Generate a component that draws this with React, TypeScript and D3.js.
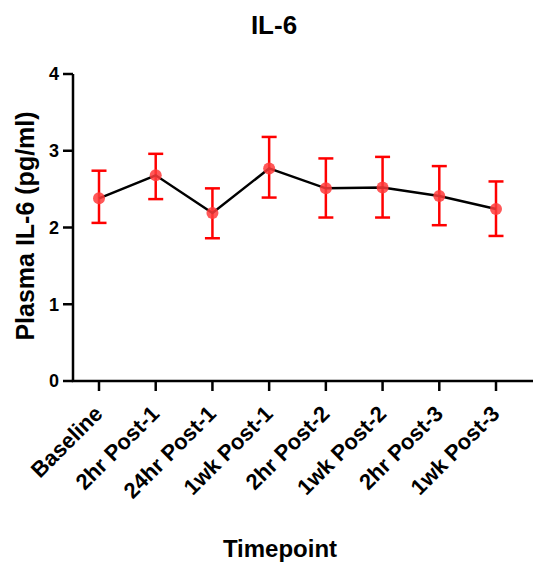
import React from "react";
import * as d3 from "d3";

const categories = [
  "Baseline",
  "2hr Post-1",
  "24hr Post-1",
  "1wk Post-1",
  "2hr Post-2",
  "1wk Post-2",
  "2hr Post-3",
  "1wk Post-3",
];
const means = [2.38, 2.68, 2.19, 2.77, 2.51, 2.52, 2.41, 2.24];
const upper = [2.74, 2.96, 2.51, 3.18, 2.9, 2.92, 2.8, 2.6];
const lower = [2.06, 2.37, 1.86, 2.39, 2.13, 2.13, 2.03, 1.89];
const yTicks = [0, 1, 2, 3, 4];

const W = 533;
const H = 569;
const FONT = "'Liberation Sans', Arial, sans-serif";

export default function App() {
  const x = d3.scalePoint<string>().domain(categories).range([99, 496]);
  const y = d3.scaleLinear().domain([0, 4]).range([381, 74]);
  const axisX0 = 73;
  const axisXEnd = 533;
  const line = d3
    .line<number>()
    .x((_, i) => x(categories[i]) as number)
    .y((d) => y(d));
  const capHalf = 7.5;

  return (
    <svg
      width={W}
      height={H}
      style={{ position: "absolute", left: 0, top: 0, background: "#fff" }}
      fontFamily={FONT}
    >
      <text x={274} y={34} textAnchor="middle" fontSize={26} fontWeight="bold">
        IL-6
      </text>

      {/* y axis */}
      <line x1={axisX0} x2={axisX0} y1={y(4)} y2={y(0)} stroke="#000" strokeWidth={2.5} />
      {yTicks.map((t) => (
        <g key={t}>
          <line x1={axisX0 - 10} x2={axisX0} y1={y(t)} y2={y(t)} stroke="#000" strokeWidth={2.5} />
          <text
            x={axisX0 - 14}
            y={y(t)}
            dy="0.36em"
            textAnchor="end"
            fontSize={18}
            fontWeight="bold"
          >
            {t}
          </text>
        </g>
      ))}
      <text
        transform={`translate(34, 226) rotate(-90)`}
        textAnchor="middle"
        fontSize={25}
        fontWeight="bold"
      >
        Plasma IL-6 (pg/ml)
      </text>

      {/* x axis */}
      <line x1={axisX0 - 1.25} x2={axisXEnd} y1={y(0)} y2={y(0)} stroke="#000" strokeWidth={2.5} />
      {categories.map((c) => (
        <g key={c}>
          <line
            x1={x(c)}
            x2={x(c)}
            y1={y(0)}
            y2={y(0) + 10}
            stroke="#000"
            strokeWidth={2.5}
          />
          <text
            transform={`translate(${(x(c) as number) + 5}, ${y(0) + 34}) rotate(-45)`}
            textAnchor="end"
            fontSize={22}
            fontWeight="bold"
          >
            {c}
          </text>
        </g>
      ))}
      <text x={280} y={557} textAnchor="middle" fontSize={24} fontWeight="bold">
        Timepoint
      </text>

      {/* error bars */}
      {categories.map((c, i) => {
        const cx = x(c) as number;
        return (
          <g key={c} stroke="#ff0000" strokeWidth={2.5}>
            <line x1={cx} x2={cx} y1={y(upper[i])} y2={y(lower[i])} />
            <line x1={cx - capHalf} x2={cx + capHalf} y1={y(upper[i])} y2={y(upper[i])} />
            <line x1={cx - capHalf} x2={cx + capHalf} y1={y(lower[i])} y2={y(lower[i])} />
          </g>
        );
      })}

      {/* line */}
      <path d={line(means) || ""} fill="none" stroke="#000" strokeWidth={2.5} />

      {/* points */}
      {categories.map((c, i) => (
        <circle
          key={c}
          cx={x(c) as number}
          cy={y(means[i])}
          r={6}
          fill="#ff3b3b"
          fillOpacity={0.85}
        />
      ))}
    </svg>
  );
}
